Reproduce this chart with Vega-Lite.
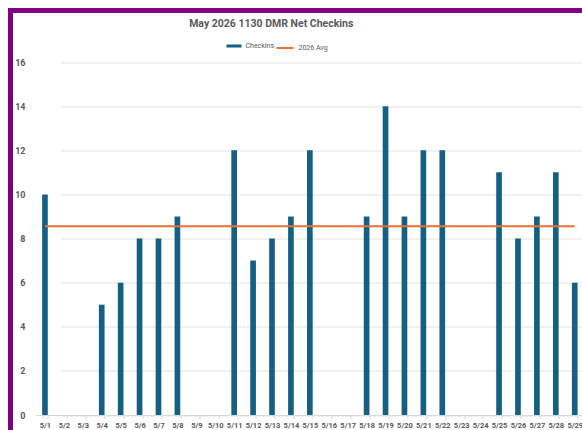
{
  "$schema": "https://vega.github.io/schema/vega-lite/v6.json",
  "width": 571.5,
  "height": 419.5,
  "autosize": "none",
  "padding": {"left": 10.5, "top": 10.5, "right": 0, "bottom": 0},
  "background": "white",
  "view": {"stroke": "#800080", "strokeWidth": 5, "strokeCap": "square", "strokeDash": [571.5, 991, 419.5, 0]},
  "title": {
    "text": "May 2026 1130 DMR Net Checkins",
    "font": "Roboto",
    "fontSize": 10.5,
    "fontWeight": "bold",
    "color": "#595959",
    "anchor": "middle",
    "dx": -25,
    "offset": -19
  },
  "config": {
    "font": "Roboto",
    "legend": {"labelFontSize": 7, "labelColor": "#595959", "padding": 0, "labelFont": "Roboto"}
  },
  "data": {
    "values": [
      {"date": "5/1", "checkins": 10, "avg": 8.55},
      {"date": "5/2", "checkins": 0, "avg": 8.55},
      {"date": "5/3", "checkins": 0, "avg": 8.55},
      {"date": "5/4", "checkins": 5, "avg": 8.55},
      {"date": "5/5", "checkins": 6, "avg": 8.55},
      {"date": "5/6", "checkins": 8, "avg": 8.55},
      {"date": "5/7", "checkins": 8, "avg": 8.55},
      {"date": "5/8", "checkins": 9, "avg": 8.55},
      {"date": "5/9", "checkins": 0, "avg": 8.55},
      {"date": "5/10", "checkins": 0, "avg": 8.55},
      {"date": "5/11", "checkins": 12, "avg": 8.55},
      {"date": "5/12", "checkins": 7, "avg": 8.55},
      {"date": "5/13", "checkins": 8, "avg": 8.55},
      {"date": "5/14", "checkins": 9, "avg": 8.55},
      {"date": "5/15", "checkins": 12, "avg": 8.55},
      {"date": "5/16", "checkins": 0, "avg": 8.55},
      {"date": "5/17", "checkins": 0, "avg": 8.55},
      {"date": "5/18", "checkins": 9, "avg": 8.55},
      {"date": "5/19", "checkins": 14, "avg": 8.55},
      {"date": "5/20", "checkins": 9, "avg": 8.55},
      {"date": "5/21", "checkins": 12, "avg": 8.55},
      {"date": "5/22", "checkins": 12, "avg": 8.55},
      {"date": "5/23", "checkins": 0, "avg": 8.55},
      {"date": "5/24", "checkins": 0, "avg": 8.55},
      {"date": "5/25", "checkins": 11, "avg": 8.55},
      {"date": "5/26", "checkins": 8, "avg": 8.55},
      {"date": "5/27", "checkins": 9, "avg": 8.55},
      {"date": "5/28", "checkins": 11, "avg": 8.55},
      {"date": "5/29", "checkins": 6, "avg": 8.55}
    ]
  },
  "encoding": {
    "x": {
      "field": "date",
      "type": "nominal",
      "sort": null,
      "scale": {"type": "band", "range": [25, 573.7], "paddingInner": 0.7, "paddingOuter": 0.35},
      "axis": {
        "title": null,
        "labelAngle": 0,
        "offset": -15,
        "domainColor": "#d9d9d9",
        "tickColor": "#d9d9d9",
        "tickBand": "extent",
        "tickSize": 4,
        "labelPadding": 2,
        "labelFontSize": 7.5,
        "labelFontWeight": "bold",
        "labelColor": "#595959",
        "labelFont": "Roboto"
      }
    }
  },
  "layer": [
    {
      "mark": {"type": "bar"},
      "encoding": {
        "y": {
          "field": "checkins",
          "type": "quantitative",
          "scale": {"domain": [0, 16], "range": [404.5, 51.5], "nice": false},
          "axis": {
            "title": null,
            "values": [0, 2, 4, 6, 8, 10, 12, 14, 16],
            "domain": false,
            "ticks": false,
            "labelPadding": -14.5,
            "labelAlign": "right",
            "labelFontSize": 9,
            "labelFontWeight": "bold",
            "labelColor": "#595959",
            "labelFont": "Roboto",
            "grid": true,
            "gridColor": "#e3e3e3",
            "gridDash": [0, 25, 1000]
          }
        },
        "color": {
          "datum": "Checkins",
          "scale": {"range": ["#156082"]},
          "legend": {
            "title": null,
            "orient": "none",
            "legendX": 216,
            "legendY": 28,
            "symbolType": "M-1,-0.2H1V0.2H-1Z",
            "symbolSize": 225,
            "symbolStrokeWidth": 0
          }
        }
      }
    },
    {
      "mark": {"type": "line", "strokeWidth": 2},
      "encoding": {
        "y": {"field": "avg", "type": "quantitative"},
        "stroke": {
          "datum": "2026 Avg",
          "scale": {"range": ["#E97132"]},
          "legend": {
            "title": null,
            "orient": "none",
            "legendX": 265,
            "legendY": 28,
            "symbolType": "stroke",
            "symbolSize": 289,
            "symbolStrokeWidth": 2
          }
        }
      }
    }
  ]
}
